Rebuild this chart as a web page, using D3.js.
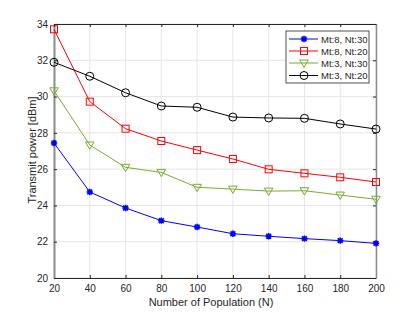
<!DOCTYPE html>
<html><head><meta charset="utf-8">
<script src="https://cdn.jsdelivr.net/npm/d3@7"></script>
<style>body{margin:0;background:#fff}svg{display:block}text{font-family:"Liberation Sans",Arial,sans-serif;fill:#262626}</style>
</head><body><svg id="c" width="415" height="313"></svg>
<script>
const xVals=[20,40,60,80,100,120,140,160,180,200];
const mt8nt30=[27.44,24.74,23.86,23.16,22.81,22.44,22.30,22.17,22.06,21.91];
const mt8nt20=[33.71,29.72,28.23,27.55,27.05,26.56,25.99,25.77,25.55,25.29];
const mt3nt30=[30.32,27.33,26.10,25.82,25.00,24.90,24.79,24.81,24.57,24.34];
const mt3nt20=[31.89,31.12,30.21,29.48,29.41,28.87,28.82,28.80,28.49,28.21];
const seriesNames=["Mt:8, Nt:30","Mt:8, Nt:20","Mt:3, Nt:30","Mt:3, Nt:20"];
const xTicks=[20,40,60,80,100,120,140,160,180,200];
const yTicks=[20,22,24,26,28,30,32,34];
const xLabel="Number of Population (N)";
const yLabel="Transmit power [dBm]";

const svg=d3.select("#c");
const L=54,R=376,T=24,B=278;
const x=d3.scaleLinear().domain([20,200]).range([L,R]);
const y=d3.scaleLinear().domain([20,34]).range([B,T]);
const series=[
 {name:seriesNames[0],vals:mt8nt30,color:"#0000ff",marker:"star"},
 {name:seriesNames[1],vals:mt8nt20,color:"#ff0000",marker:"square"},
 {name:seriesNames[2],vals:mt3nt30,color:"#77ac30",marker:"tri"},
 {name:seriesNames[3],vals:mt3nt20,color:"#000000",marker:"circle"}];

// grid
const g=svg.append("g");
g.selectAll(".gx").data(xTicks).enter().append("line")
 .attr("x1",d=>x(d)).attr("x2",d=>x(d)).attr("y1",T).attr("y2",B)
 .attr("stroke","#e6e6e6").attr("stroke-width",1);
g.selectAll(".gy").data(yTicks).enter().append("line")
 .attr("y1",d=>y(d)).attr("y2",d=>y(d)).attr("x1",L).attr("x2",R)
 .attr("stroke","#e6e6e6").attr("stroke-width",1);

// axes
const ax=svg.append("g").attr("transform",`translate(0,${B})`)
 .call(d3.axisBottom(x).tickValues(xTicks).tickSizeInner(-3).tickSizeOuter(0).tickPadding(7));
const ay=svg.append("g").attr("transform",`translate(${L},0)`)
 .call(d3.axisLeft(y).tickValues(yTicks).tickSizeInner(-3).tickSizeOuter(0).tickPadding(6));
const axT=svg.append("g").attr("transform",`translate(0,${T})`)
 .call(d3.axisTop(x).tickValues(xTicks).tickSizeInner(-3).tickSizeOuter(0).tickFormat(""));
const ayR=svg.append("g").attr("transform",`translate(${R},0)`)
 .call(d3.axisRight(y).tickValues(yTicks).tickSizeInner(-3).tickSizeOuter(0).tickFormat(""));
[ax,ay,axT,ayR].forEach(a=>{
 a.select(".domain").attr("stroke","#262626").attr("stroke-width",1);
 a.selectAll(".tick line").attr("stroke","#262626");
 a.selectAll("text").attr("font-size",10).attr("fill","#262626").style("font-family","'Liberation Sans',Arial,sans-serif");
});
ay.select(".domain").attr("stroke","#8c8c8c").attr("stroke-width",2);
ayR.select(".domain").attr("stroke","#8c8c8c").attr("stroke-width",1.5);

// labels
svg.append("text").attr("x",211).attr("y",306).attr("text-anchor","middle")
 .attr("font-size",11).text(xLabel);
svg.append("text").attr("transform",`translate(36,${(T+B)/2-1}) rotate(-90)`).attr("text-anchor","middle")
 .attr("font-size",11).text(yLabel);

function drawMarker(sel,type,color){
 if(type==="star"){
  const s=3.2;
  sel.append("path").attr("d",`M${-s},0L${s},0M0,${-s}L0,${s}M${-s*0.75},${-s*0.75}L${s*0.75},${s*0.75}M${-s*0.75},${s*0.75}L${s*0.75},${-s*0.75}`)
   .attr("stroke",color).attr("stroke-width",1.6).attr("fill","none");
 } else if(type==="square"){
  sel.append("rect").attr("x",-3.5).attr("y",-3.5).attr("width",7).attr("height",7)
   .attr("fill","none").attr("stroke",color).attr("stroke-width",1);
 } else if(type==="tri"){
  sel.append("path").attr("d","M-4.3,-3L4.3,-3L0,4.3Z").attr("fill","none").attr("stroke",color).attr("stroke-width",1);
 } else {
  sel.append("circle").attr("r",4).attr("fill","none").attr("stroke",color).attr("stroke-width",1);
 }
}

const line=d3.line().x((d,i)=>x(xVals[i])).y(d=>y(d));
series.forEach(s=>{
 svg.append("path").datum(s.vals).attr("d",line).attr("fill","none").attr("stroke",s.color).attr("stroke-width",1);
 s.vals.forEach((v,i)=>{
  const m=svg.append("g").attr("transform",`translate(${x(xVals[i])},${y(v)})`);
  drawMarker(m,s.marker,s.color);
 });
});

// legend
const lg=svg.append("g");
lg.append("rect").attr("x",286).attr("y",31).attr("width",83).attr("height",52)
 .attr("fill","#fff").attr("stroke","#262626").attr("stroke-width",0.8);
const ly=[39,51,63,75.5];
series.forEach((s,i)=>{
 lg.append("line").attr("x1",289).attr("x2",318).attr("y1",ly[i]).attr("y2",ly[i]).attr("stroke",s.color).attr("stroke-width",1);
 const m=lg.append("g").attr("transform",`translate(304,${ly[i]})`);
 drawMarker(m,s.marker,s.color);
 lg.append("text").attr("x",321).attr("y",ly[i]+3.5).attr("font-size",9.5).text(s.name);
});
</script></body></html>
